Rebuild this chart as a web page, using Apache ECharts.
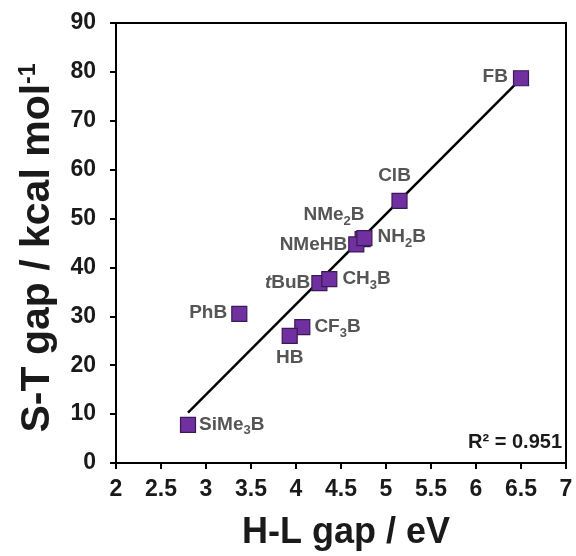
<!DOCTYPE html>
<html><head><meta charset="utf-8">
<script src="https://cdn.jsdelivr.net/npm/echarts@6/dist/echarts.min.js"></script>
<style>html,body{margin:0;padding:0;background:#fff}#c{width:576px;height:556px}</style>
</head><body><div id="c"></div>
<script>
// Data
const names = ['FB','ClB','NMe2B','NMeHB','NH2B','tBuB','CH3B','PhB','CF3B','HB','SiMe3B'];
const hlGap = [6.50, 5.15, 4.74, 4.67, 4.76, 4.26, 4.37, 3.37, 4.07, 3.93, 2.80];
const stGap = [78.7, 53.6, 45.8, 44.7, 46.0, 36.8, 37.6, 30.5, 27.8, 26.0, 7.8];
const trendX = [2.80, 6.50];
const trendY = [10.3, 78.6];
const xTicks = [2, 2.5, 3, 3.5, 4, 4.5, 5, 5.5, 6, 6.5, 7];
const yTicks = [0, 10, 20, 30, 40, 50, 60, 70, 80, 90];
const r2Text = 'R² = 0.951';

// Label text (rich) and placement
const labelText = {
  FB: 'FB', ClB: 'ClB', NMe2B: 'NMe{s|2}B', NMeHB: 'NMeHB', NH2B: 'NH{s|2}B',
  tBuB: '{i|t}BuB', CH3B: 'CH{s|3}B', PhB: 'PhB', CF3B: 'CF{s|3}B', HB: 'HB', SiMe3B: 'SiMe{s|3}B'
};
const labelPlace = {
  FB: {position:'left', offset:[-1,-1]},
  ClB: {position:'top', offset:[-5,-4]},
  NMe2B: {position:'left', offset:[14,-24]},
  NMeHB: {position:'left', offset:[3,0]},
  NH2B: {position:'right', offset:[1,-1]},
  tBuB: {position:'left', offset:[3,0]},
  CH3B: {position:'right', offset:[1,0]},
  PhB: {position:'left', offset:[0,-1]},
  CF3B: {position:'right', offset:[0,0]},
  HB: {position:'bottom', offset:[0,0]},
  SiMe3B: {position:'right', offset:[-1,0]}
};

const labelFont = 'Liberation Sans';
const rich = {
  s: {fontSize: 13, fontWeight: 'bold', color: '#555555', fontFamily: labelFont, padding: [12,0,0,0]},
  i: {fontSize: 19, fontWeight: 'bold', fontStyle: 'italic', color: '#555555', fontFamily: labelFont}
};

const scatterData = names.map((n, k) => ({
  value: [hlGap[k], stGap[k]],
  label: Object.assign({show: true, formatter: labelText[n]}, labelPlace[n])
}));

const chart = echarts.init(document.getElementById('c'), null, {renderer: 'canvas'});
chart.setOption({
  animation: false,
  backgroundColor: '#fff',
  grid: {left: 116, right: 10, top: 23, bottom: 93, show: true, borderColor: '#000', borderWidth: 2},
  xAxis: {
    type: 'value', min: xTicks[0], max: xTicks[xTicks.length-1], interval: 0.5,
    axisLine: {lineStyle: {color: '#000', width: 2}},
    axisTick: {show: true, inside: false, length: 6, lineStyle: {color: '#000', width: 2}},
    axisLabel: {color: '#1a1a1a', fontSize: 23, fontWeight: 'bold', fontFamily: labelFont, margin: 15},
    splitLine: {show: false},
    name: 'H-L gap / eV', nameLocation: 'middle', nameGap: 52,
    nameTextStyle: {color: '#1a1a1a', fontSize: 36, fontWeight: 'bold', fontFamily: labelFont, padding: [0,0,0,10]}
  },
  yAxis: {
    type: 'value', min: yTicks[0], max: yTicks[yTicks.length-1], interval: 10,
    axisLine: {lineStyle: {color: '#000', width: 2}},
    axisTick: {show: true, inside: false, length: 6, lineStyle: {color: '#000', width: 2}},
    axisLabel: {color: '#1a1a1a', fontSize: 23, fontWeight: 'bold', fontFamily: labelFont, margin: 20},
    splitLine: {show: false},
    name: 'S-T gap / kcal mol{sup|-1}', nameLocation: 'middle', nameGap: 58, nameRotate: 90,
    nameTextStyle: {color: '#1a1a1a', fontSize: 41, fontWeight: 'bold', fontFamily: labelFont, padding: [0,10,0,0],
      rich: {sup: {fontSize: 23, fontWeight: 'bold', color: '#1a1a1a', fontFamily: labelFont, padding: [0,0,17,0]}}}
  },
  series: [
    {
      type: 'line', data: trendX.map((x, k) => [x, trendY[k]]), symbol: 'none',
      lineStyle: {color: '#000', width: 2.5}, z: 1, silent: true
    },
    {
      type: 'scatter', data: scatterData, symbol: 'rect', symbolSize: 15, z: 3,
      itemStyle: {color: '#7030A0', borderColor: '#3a1a55', borderWidth: 1.2, opacity: 1},
      label: {color: '#555555', fontSize: 19, fontWeight: 'bold', fontFamily: labelFont, rich: rich, distance: 4}
    }
  ],
  graphic: [{
    type: 'text', right: 14, top: 432,
    style: {text: r2Text, fill: '#1a1a1a', font: 'bold 20px "Liberation Sans"'}
  }]
});
</script></body></html>
